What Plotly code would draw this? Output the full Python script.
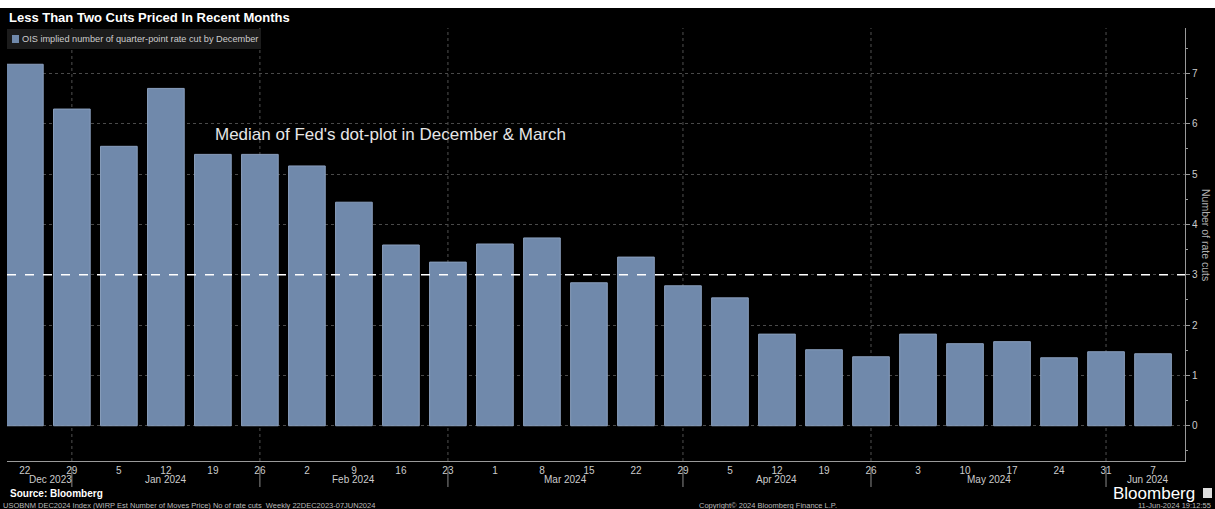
import plotly.graph_objects as go

# ---- data ----
dates = ["2023-12-22", "2023-12-29", "2024-01-05", "2024-01-12", "2024-01-19", "2024-01-26",
         "2024-02-02", "2024-02-09", "2024-02-16", "2024-02-23", "2024-03-01", "2024-03-08",
         "2024-03-15", "2024-03-22", "2024-03-29", "2024-04-05", "2024-04-12", "2024-04-19",
         "2024-04-26", "2024-05-03", "2024-05-10", "2024-05-17", "2024-05-24", "2024-05-31",
         "2024-06-07"]
day_labels = ["22", "29", "5", "12", "19", "26", "2", "9", "16", "23", "1", "8", "15", "22",
              "29", "5", "12", "19", "26", "3", "10", "17", "24", "31", "7"]
rate_cuts = [7.18, 6.29, 5.55, 6.70, 5.39, 5.39, 5.16, 4.44, 3.59, 3.25, 3.61, 3.73, 2.84,
             3.35, 2.78, 2.54, 1.82, 1.51, 1.37, 1.82, 1.63, 1.67, 1.35, 1.47, 1.43]
month_labels = ["Dec 2023", "Jan 2024", "Feb 2024", "Mar 2024", "Apr 2024", "May 2024", "Jun 2024"]
month_label_pos = [0.55, 3.0, 7.0, 11.5, 16.0, 20.5, 23.9]
month_break_idx = [1, 5, 9, 14, 18, 23]
dot_plot_median = 3

W, H = 1215, 509
ML, MR, MT, MB = 7, 30, 28, 48
PW, PH = W - ML - MR, H - MT - MB


def px(x):
    return (x - ML) / PW


def py(y):
    return (H - MB - y) / PH


FONT = "Liberation Sans"
x_idx = list(range(len(dates)))

fig = go.Figure()
fig.add_trace(go.Bar(
    x=x_idx, y=rate_cuts, width=0.78,
    marker=dict(color="#7089ab", line=dict(color="#8a9fbd", width=1)),
    name="OIS implied number of quarter-point rate cut by December",
    showlegend=False,
    customdata=dates,
    hovertemplate="%{customdata}: %{y:.2f}<extra></extra>",
))

shapes = []
# vertical dotted gridlines at month breaks + separators under the axis
for i in month_break_idx:
    shapes.append(dict(type="line", xref="x", yref="paper", x0=i, x1=i, y0=0, y1=1,
                       line=dict(color="#505050", width=1, dash="dot"), layer="below"))
    shapes.append(dict(type="line", xref="x", yref="paper", x0=i, x1=i, y0=py(467), y1=py(487),
                       line=dict(color="#8a8a8a", width=1)))
# dashed line for dot plot median
shapes.append(dict(type="line", xref="paper", yref="y", x0=0, x1=1, y0=dot_plot_median,
                   y1=dot_plot_median, line=dict(color="#ffffff", width=1.5, dash="dash")))
# white strip at top
shapes.append(dict(type="rect", xref="paper", yref="paper", x0=px(-5), x1=px(W + 5),
                   y0=py(8), y1=py(-5), fillcolor="#ffffff", line=dict(width=0)))
# legend box
shapes.append(dict(type="rect", xref="paper", yref="paper", x0=px(7), x1=px(261),
                   y0=py(49), y1=py(29), fillcolor="#1c1c1c", line=dict(width=0)))
shapes.append(dict(type="rect", xref="paper", yref="paper", x0=px(12), x1=px(19),
                   y0=py(43), y1=py(35), fillcolor="#7089ab", line=dict(width=0)))
# Bloomberg logo square
shapes.append(dict(type="rect", xref="paper", yref="paper", x0=px(1203), x1=px(1212),
                   y0=py(498), y1=py(488), fillcolor="#dddddd", line=dict(width=0)))

annotations = []
annotations.append(dict(text="<b>Less Than Two Cuts Priced In Recent Months</b>", xref="paper",
                        yref="paper", x=px(7), y=py(17), xanchor="left", yanchor="middle",
                        showarrow=False, font=dict(family=FONT, size=13, color="#ffffff")))
annotations.append(dict(text="OIS implied number of quarter-point rate cut by December",
                        xref="paper", yref="paper", x=px(20), y=py(39), xanchor="left",
                        yanchor="middle", showarrow=False,
                        font=dict(family=FONT, size=9.2, color="#cccccc")))
annotations.append(dict(text="Median of Fed's dot-plot in December & March", xref="x", yref="y",
                        x=4.0, y=5.79, xanchor="left", yanchor="middle", showarrow=False,
                        font=dict(family=FONT, size=17, color="#e6e6e6")))
for lab, pos in zip(month_labels, month_label_pos):
    annotations.append(dict(text=lab, xref="x", yref="paper", x=pos, y=py(479),
                            xanchor="center", yanchor="middle", showarrow=False,
                            font=dict(family=FONT, size=10, color="#cccccc")))
annotations.append(dict(text="Number of rate cuts", xref="paper", yref="paper", x=px(1206),
                        y=py(235), xanchor="center", yanchor="middle", textangle=90,
                        showarrow=False, font=dict(family=FONT, size=10.5, color="#b0b0b0")))
annotations.append(dict(text="<b>Source: Bloomberg</b>", xref="paper", yref="paper", x=px(8),
                        y=py(493), xanchor="left", yanchor="middle", showarrow=False,
                        font=dict(family=FONT, size=10, color="#ffffff")))
annotations.append(dict(text="Bloomberg", xref="paper", yref="paper", x=px(1197), y=py(493),
                        xanchor="right", yanchor="middle", showarrow=False,
                        font=dict(family=FONT, size=17, color="#ffffff")))
annotations.append(dict(text="USOBNM DEC2024 Index (WIRP Est Number of Moves Price) No of rate cuts  Weekly 22DEC2023-07JUN2024",
                        xref="paper", yref="paper", x=px(1), y=py(498.5), xanchor="left",
                        yanchor="top", showarrow=False,
                        font=dict(family=FONT, size=7.5, color="#bbbbbb")))
annotations.append(dict(text="Copyright\u00a9 2024 Bloomberg Finance L.P.", xref="paper",
                        yref="paper", x=px(697), y=py(498.5), xanchor="left", yanchor="top",
                        showarrow=False, font=dict(family=FONT, size=7.5, color="#bbbbbb")))
annotations.append(dict(text="11-Jun-2024 19:12:55", xref="paper", yref="paper", x=px(1213),
                        y=py(498.5), xanchor="right", yanchor="top", showarrow=False,
                        font=dict(family=FONT, size=7.5, color="#bbbbbb")))

fig.update_layout(
    width=W, height=H,
    margin=dict(l=ML, r=MR, t=MT, b=MB),
    paper_bgcolor="#000000", plot_bgcolor="#000000",
    font=dict(family=FONT, color="#cccccc", size=10),
    bargap=0.22,
    shapes=shapes, annotations=annotations,
    xaxis=dict(range=[-0.38, 24.68], tickmode="array", tickvals=x_idx, ticktext=day_labels,
               showgrid=False, zeroline=False, showline=True, linecolor="#9a9a9a", linewidth=1,
               ticks="", tickfont=dict(family=FONT, size=10, color="#cccccc")),
    yaxis=dict(side="right", range=[-0.7, 7.9], dtick=1, tick0=0, showgrid=True,
               gridcolor="#4a4a4a", griddash="dot", gridwidth=1, zeroline=False,
               showline=True, linecolor="#9a9a9a", linewidth=1, ticks="outside", ticklen=4,
               tickcolor="#9a9a9a", tickfont=dict(family=FONT, size=10, color="#cccccc"),
               minor=dict(dtick=0.5, ticks="outside", ticklen=2, tickcolor="#9a9a9a",
                          showgrid=False)),
)

fig.write_html("out.html", config={"displayModeBar": False},
               post_script="document.body.style.margin='0';document.body.style.overflow='hidden';")
